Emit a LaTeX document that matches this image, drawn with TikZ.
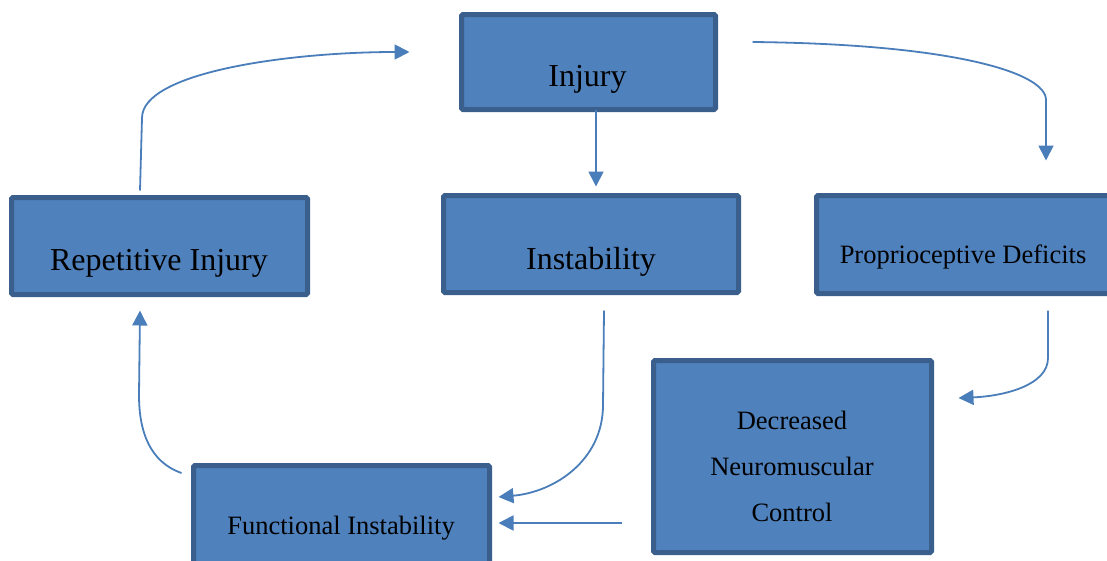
\documentclass[tikz,border=0pt]{standalone}
\usepackage{fontspec}
\setmainfont{Liberation Serif}
\usetikzlibrary{arrows.meta}
\definecolor{boxfill}{HTML}{4F81BD}
\definecolor{boxline}{HTML}{3A5F8D}
\definecolor{flow}{HTML}{4A7EBB}
\tikzset{
  stage/.style={draw=boxline, fill=boxfill, line width=5pt, rounded corners=1.5pt,
                inner sep=0pt, outer sep=0pt},
  bigtext/.style={anchor=base, inner sep=0pt, font=\fontsize{32}{38}\selectfont},
  smalltext/.style={anchor=base, inner sep=0pt, font=\fontsize{26.5}{32}\selectfont},
  flowarrow/.style={draw=flow, line width=1.8pt,
                    -{Triangle[length=15pt,width=15pt]}}
}
\begin{document}
\begin{tikzpicture}[x=1pt,y=-1pt]
\useasboundingbox (0,0) rectangle (1107,560);
\clip (0,0) rectangle (1107,560);

% boxes (centre, border-centre size)
\node[stage, minimum width=254pt, minimum height=95pt] (inj)  at (588.5,62)  {};
\node[stage, minimum width=296pt, minimum height=97pt] (rep)  at (159.5,246) {};
\node[stage, minimum width=295pt, minimum height=97pt] (inst) at (591,244)   {};
\node[stage, minimum width=295pt, minimum height=98pt] (prop) at (964,244.5) {};
\node[stage, minimum width=278pt, minimum height=192pt] (dnc) at (792.5,456.5) {};
\node[stage, minimum width=296pt, minimum height=123pt] (func) at (341.5,527) {};

% labels
\node[bigtext]   (injt)  at (587.5,86)  {Injury};
\node[bigtext]   (rept)  at (159,270)   {Repetitive Injury};
\node[bigtext]   (instt) at (591,269)   {Instability};
\node[smalltext] (propt) at (963,263)   {Proprioceptive Deficits};
\node[smalltext] (funct) at (341,534)   {Functional Instability};
\node[smalltext] (dnc1)  at (792,429)   {Decreased};
\node[smalltext] (dnc2)  at (792,475)   {Neuromuscular};
\node[smalltext] (dnc3)  at (792,521)   {Control};

% connectors
\draw[flowarrow] ([xshift=7.5pt]inj.south) -- ([xshift=5pt,yshift=9pt]inst.north);
\draw[flowarrow] ([xshift=37pt,yshift=20pt]inj.east)
  .. controls (950,44) and (1046,72) .. (1046,100)
  -- ([xshift=82pt,yshift=35pt]prop.north);
\draw[flowarrow] ([xshift=84pt,yshift=-17pt]prop.south) -- (1048,358)
  .. controls (1048,385) and (1005,396) .. ([xshift=27pt,yshift=58.5pt]dnc.east);
\draw[flowarrow] ([xshift=13pt,yshift=-18pt]inst.south) -- (603,405)
  .. controls (603,460) and (555,492) .. ([xshift=9pt,yshift=30pt]func.east);
\draw[flowarrow] ([xshift=-32pt,yshift=-66.5pt]dnc.west) -- ([xshift=9pt,yshift=4pt]func.east);
\draw[flowarrow] ([xshift=-12pt,yshift=54pt]func.west)
  .. controls (150,462) and (139,432) .. (139,395)
  -- ([xshift=-19.5pt,yshift=-16pt]rep.south);
\draw[flowarrow] ([xshift=-19.5pt,yshift=7pt]rep.north) -- (142,118)
  .. controls (142,72) and (290,52) .. ([xshift=-52pt,yshift=10pt]inj.west);
\end{tikzpicture}
\end{document}
